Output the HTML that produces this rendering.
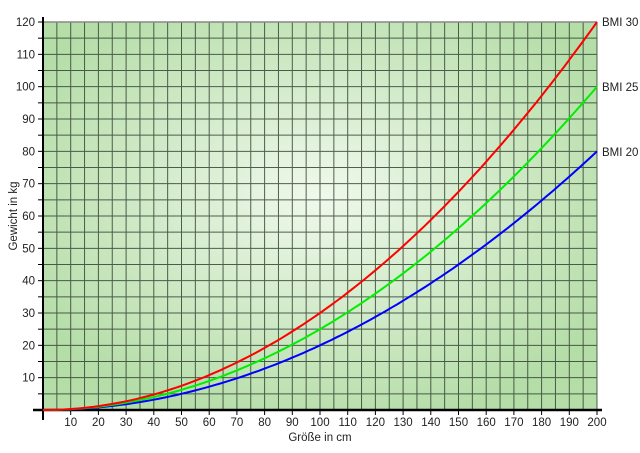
<!DOCTYPE html>
<html><head><style>body{margin:0;background:#fff}svg{display:block}</style></head><body>
<svg width="640" height="453" xmlns="http://www.w3.org/2000/svg" font-family="Liberation Sans, sans-serif" font-size="11.5" fill="#222">
<defs><radialGradient id="g" cx="0.5" cy="0.45" r="0.6"><stop offset="0" stop-color="#f0f9ec"/><stop offset="1" stop-color="#b5dda8"/></radialGradient></defs>
<rect x="43" y="22" width="554" height="388" fill="url(#g)"/>
<g id="grid" stroke="#2a3a2a" stroke-width="1" opacity="0.8"></g>
<line x1="43" y1="22" x2="597" y2="22" stroke="#888" stroke-width="1.5"/>
<g id="ax" stroke="#000"></g>
<g id="lab"></g>
<g id="curves" fill="none" stroke-width="2"></g>
<text x="602" y="26">BMI 30</text><text x="602" y="91">BMI 25</text><text x="602" y="156">BMI 20</text>
<text x="320" y="441" text-anchor="middle">Größe in cm</text>
<text transform="translate(17,216) rotate(-90)" text-anchor="middle">Gewicht in kg</text>
<script>
var X=h=>43+h*2.77,Y=w=>410-w*3.2333,ns="http://www.w3.org/2000/svg";
function el(p,t,a,txt){var e=document.createElementNS(ns,t);for(var k in a)e.setAttribute(k,a[k]);if(txt)e.textContent=txt;document.getElementById(p).appendChild(e);}
for(var h=5;h<=200;h+=5)el("grid","line",{x1:X(h),x2:X(h),y1:22,y2:410});
for(var w=5;w<120;w+=5)el("grid","line",{x1:43,x2:597,y1:Y(w),y2:Y(w)});
el("ax","line",{x1:43,x2:43,y1:17,y2:420,"stroke-width":2});
el("ax","line",{x1:33,x2:602,y1:410,y2:410,"stroke-width":2.5});
for(var w=5;w<=120;w+=5)el("ax","line",{x1:38,x2:43,y1:Y(w),y2:Y(w)});
for(var h=10;h<=200;h+=10){el("ax","line",{x1:X(h),x2:X(h),y1:410,y2:415});el("lab","text",{x:X(h),y:426,"text-anchor":"middle"},h);}
for(var w=10;w<=120;w+=10)el("lab","text",{x:35,y:Y(w)+4,"text-anchor":"end"},w);
[[20,"#0000ff"],[25,"#00ee00"],[30,"#ff0000"]].forEach(function(c){var d="";for(var h=0;h<=200;h+=2)d+=(h?"L":"M")+X(h).toFixed(1)+","+Y(c[0]*h*h/10000).toFixed(1);el("curves","path",{d:d,stroke:c[1]});});
</script>
</svg>
</body></html>
